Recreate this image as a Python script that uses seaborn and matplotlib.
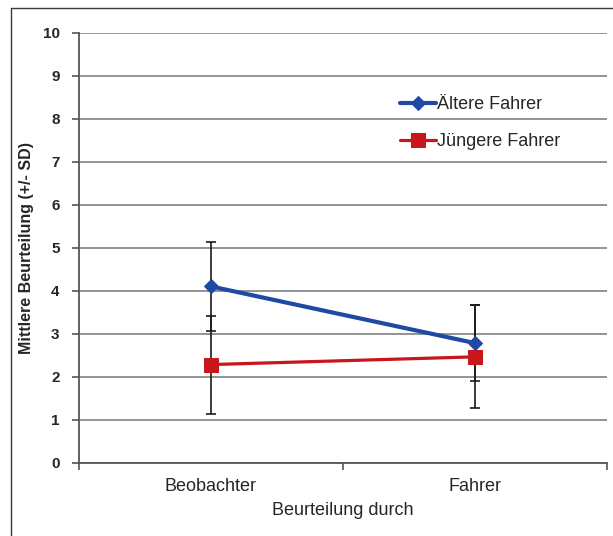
import numpy as np
import pandas as pd
import matplotlib.pyplot as plt
import seaborn as sns
from matplotlib.lines import Line2D

# values
kategorien = ['Beobachter', 'Fahrer']
aeltere_mean = [4.1, 2.78]
aeltere_sd = [1.03, 0.89]
juengere_mean = [2.28, 2.46]
juengere_sd = [1.14, 1.2]
gruppen = ['Ältere Fahrer', 'Jüngere Fahrer']

sns.set_theme(style="white")
plt.rcParams['font.family'] = ['Liberation Sans', 'DejaVu Sans']

blue = '#1f49a3'
red = '#c8161d'

df_alt = pd.DataFrame({'Beurteilung durch': kategorien, 'Mittel': aeltere_mean, 'SD': aeltere_sd})
df_jung = pd.DataFrame({'Beurteilung durch': kategorien, 'Mittel': juengere_mean, 'SD': juengere_sd})

fig = plt.figure(figsize=(6.13, 5.36), dpi=100)
ax = fig.add_axes([79 / 613, 1 - 462.5 / 536, (607 - 79) / 613, (462.5 - 33) / 536])

xpos = np.arange(len(kategorien))

# error bars (+/- SD) behind the lines
for d in (df_alt, df_jung):
    ax.errorbar(xpos, d['Mittel'], yerr=d['SD'], fmt='none', ecolor='#1a1a1a',
                elinewidth=1.2, capsize=3.3, capthick=1.2, zorder=2)

sns.lineplot(x=xpos, y=df_alt['Mittel'], ax=ax, color=blue, lw=3, marker='D',
             markersize=7.5, markeredgecolor=blue, label=gruppen[0], zorder=4)
sns.lineplot(x=xpos, y=df_jung['Mittel'], ax=ax, color=red, lw=2.3, marker='s',
             markersize=10, markeredgecolor=red, label=gruppen[1], zorder=3)

ax.set_xlim(-0.5, 1.5)
ax.set_ylim(0, 10)
ax.set_yticks(range(0, 11))
ax.set_yticklabels([str(i) for i in range(0, 11)], fontweight='bold', fontsize=11)
ax.set_xticks(xpos)
ax.set_xticklabels(kategorien, fontsize=13)
ax.set_xticks([-0.5, 0.5, 1.5], minor=True)
ax.tick_params(axis='x', which='major', length=0, pad=11)
ax.tick_params(axis='x', which='minor', length=5, width=1.2, color='#555555', direction='out', bottom=True)
ax.tick_params(axis='y', length=5, width=1.2, color='#555555', direction='out', left=True, pad=9)

ax.yaxis.grid(True, color='#808080', lw=1.2)
ax.xaxis.grid(False)
for s in ['top', 'right']:
    ax.spines[s].set_visible(False)
for s in ['left', 'bottom']:
    ax.spines[s].set_color('#555555')
    ax.spines[s].set_linewidth(1.3)

ax.set_xlabel('Beurteilung durch', fontsize=13, labelpad=5)
ax.set_ylabel('Mittlere Beurteilung (+/- SD)', fontsize=11.5, fontweight='bold', labelpad=6)

ax.legend(loc='upper left', bbox_to_anchor=(400 / 613, 1 - 96 / 536), bbox_transform=fig.transFigure,
          frameon=False, fontsize=13, handlelength=2.0, handletextpad=0.05,
          labelspacing=1.1, borderpad=0, borderaxespad=0)

# outer chart frame (only left and top visible)
fig.add_artist(Line2D([11 / 613, 11 / 613], [0, 1 - 8 / 536], transform=fig.transFigure, color='#3a3a3a', lw=1))
fig.add_artist(Line2D([11 / 613, 1], [1 - 8 / 536, 1 - 8 / 536], transform=fig.transFigure, color='#3a3a3a', lw=1))

plt.savefig('out.png', dpi=100)
plt.close()
